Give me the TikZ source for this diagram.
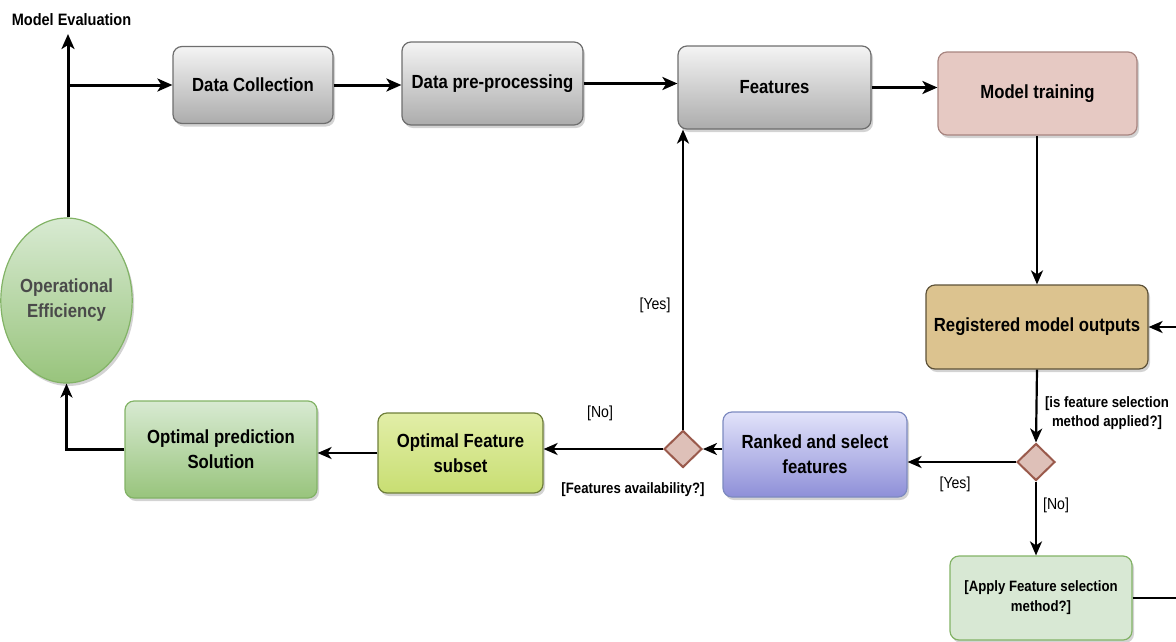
\documentclass[tikz,border=0pt]{standalone}
\usepackage{fontspec}
\setmainfont{Liberation Sans}[FakeStretch=0.88]
\usetikzlibrary{arrows.meta,shapes.geometric,shadows,calc}
\definecolor{grayT}{HTML}{F4F4F4}
\definecolor{grayB}{HTML}{ACACAC}
\definecolor{grayD}{HTML}{6E6E6E}
\definecolor{pinkF}{HTML}{E6C9C3}
\definecolor{pinkD}{HTML}{A88580}
\definecolor{tanF}{HTML}{DCC38F}
\definecolor{tanD}{HTML}{5E5238}
\definecolor{blueT}{HTML}{E2E3FA}
\definecolor{blueB}{HTML}{8E8FD8}
\definecolor{blueD}{HTML}{7D8AC0}
\definecolor{ylT}{HTML}{E2EEA8}
\definecolor{ylB}{HTML}{C8DE72}
\definecolor{ylD}{HTML}{6F7F3A}
\definecolor{grT}{HTML}{D8EAD2}
\definecolor{grB}{HTML}{98C47C}
\definecolor{grD}{HTML}{82B366}
\definecolor{lgF}{HTML}{D8E8D4}
\definecolor{diaF}{HTML}{DEC0B8}
\definecolor{diaD}{HTML}{9A5A4C}
\definecolor{effT}{HTML}{4A4A4A}
\tikzset{
  box/.style={draw, rounded corners=9pt, align=center, inner sep=0pt,
    font=\bfseries\fontsize{19}{25}\selectfont, line width=1.2pt,
    drop shadow={opacity=0.35, shadow xshift=2pt, shadow yshift=-3pt}},
  dia/.style={diamond, draw=diaD, fill=diaF, line width=2pt, inner sep=0pt,
    minimum width=38pt, minimum height=37pt},
  lbl/.style={font=\fontsize{16}{19}\selectfont, align=center, inner sep=0pt},
  blbl/.style={font=\bfseries\fontsize{15}{19.5}\selectfont, align=center, inner sep=0pt},
  thickarr/.style={line width=3pt, -{Stealth[length=15pt,width=13pt,inset=4pt]}},
  arr/.style={line width=2.2pt, -{Stealth[length=14pt,width=12pt,inset=4pt]}}
}
\begin{document}
\begin{tikzpicture}[x=1pt,y=-1pt]
\useasboundingbox (0,0) rectangle (1176,641);
% nodes
\node[box, draw=grayD, top color=grayT, bottom color=grayB, minimum width=160pt, minimum height=77pt] (dc) at (253,85) {Data Collection};
\node[box, draw=grayD, top color=grayT, bottom color=grayB, minimum width=181pt, minimum height=83pt] (dp) at (492.5,83.5) {Data pre-processing};
\node[box, draw=grayD, top color=grayT, bottom color=grayB, minimum width=193pt, minimum height=83pt] (feat) at (774.5,87.5) {Features};
\node[box, draw=pinkD, fill=pinkF, minimum width=199pt, minimum height=83pt] (mt) at (1037.5,93.5) {Model training};
\node[box, draw=tanD, fill=tanF, minimum width=222pt, minimum height=84pt] (reg) at (1037,327) {Registered model outputs};
\node[dia] (d1) at (1036,462) {};
\node[box, draw=blueD, top color=blueT, bottom color=blueB, minimum width=184pt, minimum height=85pt] (rank) at (815,454.5) {Ranked and select\\features};
\node[dia] (d2) at (683,449) {};
\node[box, draw=ylD, top color=ylT, bottom color=ylB, minimum width=165pt, minimum height=80pt] (ofs) at (460.5,453) {Optimal Feature\\subset};
\node[box, draw=grD, top color=grT, bottom color=grB, minimum width=192pt, minimum height=97pt] (ops) at (221,449.5) {Optimal prediction\\Solution};
\node[ellipse, draw=grD, top color=grT, bottom color=grB, line width=1.2pt, minimum width=123pt, minimum height=165pt, inner sep=0pt, align=center, text=effT,
  font=\bfseries\fontsize{19}{25}\selectfont, drop shadow={opacity=0.35, shadow xshift=2pt, shadow yshift=-3pt}] (eff) at (66.5,300.5) {Operational\\Efficiency};
\node[box, draw=grD, fill=lgF, minimum width=182pt, minimum height=84pt, font=\bfseries\fontsize{15}{20}\selectfont] (apply) at (1041,598) {[Apply Feature selection\\method?]};
\node[font=\bfseries\fontsize{16.5}{20}\selectfont, inner sep=0pt] (me) at (71.5,20) {Model Evaluation};
% labels
\node[blbl] (l1) at (1107,413) {[is feature selection\\method applied?]};
\node[lbl] (l2) at (955,484) {[Yes]};
\node[lbl] (l3) at (1056,505) {[No]};
\node[lbl] (l4) at (655,305) {[Yes]};
\node[lbl] (l5) at (600,413) {[No]};
\node[blbl] (l6) at (633,490) {[Features availability?]};
% coordinates
\coordinate (metip) at (68,34);
\coordinate (br0) at (68,300);
\coordinate (loop) at (1182,598);
% top row connectors
\draw[thickarr] (eff.north -| metip) -- (metip);
\draw[thickarr] (br0 |- dc.west) -- (dc.west);
\draw[thickarr] (dc.east) -- (dc.east -| dp.west);
\draw[thickarr] (dp.east) -- (dp.east -| feat.west);
\draw[thickarr] (feat.east) -- (feat.east -| mt.west);
% right column
\draw[arr] (mt.south -| reg.north) -- (reg.north);
\draw[arr] (reg.south) -- (d1.north);
\draw[arr] (d1.west) -- (d1.west -| rank.east);
\draw[arr] (d1.south) -- (d1.south |- apply.north);
\draw[arr] (apply.east) -- (loop) |- (reg.east);
% bottom row
\draw[arr] (rank.west |- d2.east) -- (d2.east);
\draw[arr] (d2.north) -- (d2.north |- feat.south);
\draw[arr] (d2.west) -- (d2.west -| ofs.east);
\draw[arr] (ofs.west) -- (ofs.west -| ops.east);
\draw[arr] (ops.west) -| (eff.south);
\end{tikzpicture}
\end{document}
